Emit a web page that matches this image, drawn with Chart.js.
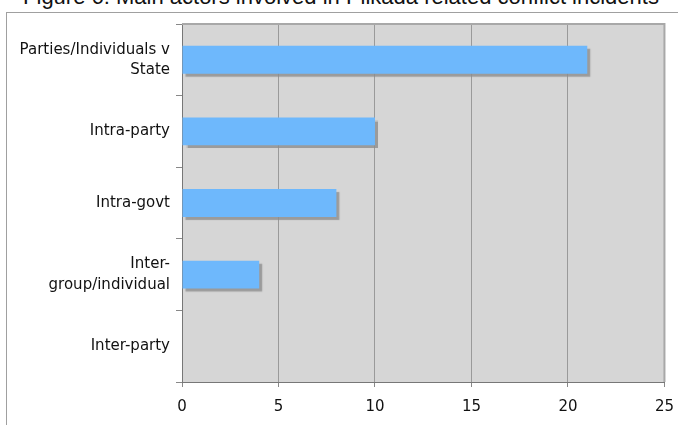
<!DOCTYPE html>
<html>
<head>
<meta charset="utf-8">
<script src="https://cdn.jsdelivr.net/npm/chart.js@4.4.1/dist/chart.umd.min.js"></script>
<style>
  html, body { margin: 0; padding: 0; background: #fff; overflow: hidden; }
  #wrap { position: relative; width: 678px; height: 425px; overflow: hidden; }
  #frame { position: absolute; left: 6px; top: 12px; width: 700px; height: 440px;
           border-left: 1px solid #a0a0a0; border-top: 1px solid #a0a0a0; }
  #title { position: absolute; left: 0; width: 682px; top: -16px; line-height: 24px;
           text-align: center; font: 22px "Liberation Sans", Arial, sans-serif; color: #111;
           white-space: nowrap; }
  canvas { position: absolute; left: 0; top: 0; }
</style>
</head>
<body>
<div id="wrap">
  <div id="frame"></div>
  <div id="title">Figure 6: Main actors involved in Pilkada related conflict incidents</div>
  <canvas id="chart" width="685" height="425"></canvas>
</div>
<script>
const categories = [
  ['Parties/Individuals v', 'State'],
  'Intra-party',
  'Intra-govt',
  ['Inter-', 'group/individual'],
  'Inter-party'
];
const incidents = [21, 10, 8, 4, 0];
const xTicks = [0, 5, 10, 15, 20, 25];

// grey plot background
const plotBg = {
  id: 'plotBg',
  beforeDraw(chart) {
    const { ctx, chartArea: a } = chart;
    ctx.save();
    ctx.fillStyle = '#d6d6d6';
    ctx.fillRect(a.left, a.top, a.right - a.left, a.bottom - a.top);
    ctx.restore();
  },
  afterDraw(chart) {
    const { ctx, chartArea: a } = chart;
    ctx.save();
    ctx.strokeStyle = '#a8a8a8';
    ctx.lineWidth = 2;
    ctx.beginPath();
    ctx.moveTo(a.left, a.top);
    ctx.lineTo(a.right, a.top);
    ctx.lineTo(a.right, a.bottom);
    ctx.stroke();
    ctx.restore();
  }
};

// drop shadow under bars
const barShadow = {
  id: 'barShadow',
  beforeDatasetDraw(chart) {
    const ctx = chart.ctx;
    ctx.save();
    ctx.shadowColor = 'rgba(140,140,140,0.8)';
    ctx.shadowOffsetX = 3;
    ctx.shadowOffsetY = 3;
    ctx.shadowBlur = 1;
  },
  afterDatasetDraw(chart) {
    chart.ctx.restore();
  }
};

new Chart(document.getElementById('chart'), {
  type: 'bar',
  data: {
    labels: categories,
    datasets: [{
      data: incidents,
      backgroundColor: '#6eb8fc',
      borderWidth: 0,
      barPercentage: 0.39,
      categoryPercentage: 1
    }]
  },
  options: {
    indexAxis: 'y',
    responsive: false,
    animation: false,
    events: [],
    layout: { padding: { top: 24, right: 6, left: 0, bottom: 0 } },
    plugins: { legend: { display: false }, tooltip: { enabled: false }, title: { display: false } },
    scales: {
      x: {
        min: 0,
        max: 25,
        afterBuildTicks(scale) { scale.ticks = xTicks.map(v => ({ value: v })); },
        afterFit(scale) { scale.height = 425 - 382; },
        grid: { color: '#9a9a9a', lineWidth: 1, drawTicks: true, tickLength: 5, tickColor: '#888' },
        border: { color: '#777', width: 1 },
        ticks: { color: '#111', padding: 11, font: { family: 'DejaVu Sans', size: 15 } }
      },
      y: {
        afterFit(scale) { scale.width = 182; },
        grid: { drawOnChartArea: false, drawTicks: true, tickLength: 6, tickColor: '#888', offset: true },
        border: { color: '#777', width: 1 },
        ticks: { color: '#111', padding: 6, font: { family: 'DejaVu Sans', size: 15, lineHeight: 1.35 } }
      }
    }
  },
  plugins: [plotBg, barShadow]
});
</script>
</body>
</html>
